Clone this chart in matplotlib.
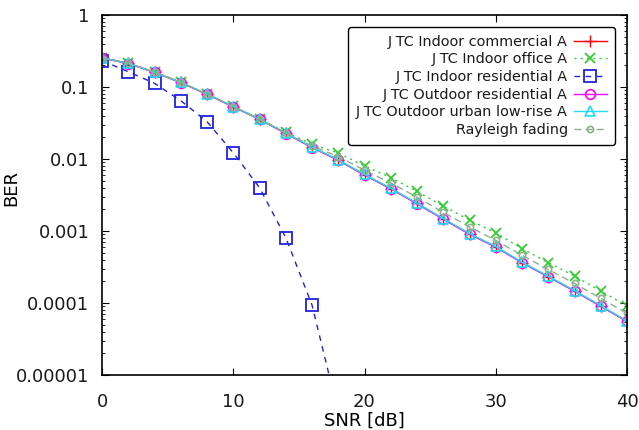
import matplotlib.pyplot as plt
import numpy as np
from matplotlib.ticker import LogLocator, NullFormatter

plt.rcParams['font.family'] = ['DejaVu Sans']
plt.rcParams['font.size'] = 13
plt.rcParams['text.color'] = '#1a1a1a'
plt.rcParams['xtick.labelcolor'] = '#1a1a1a'
plt.rcParams['ytick.labelcolor'] = '#1a1a1a'

snr = np.arange(0, 42, 2)

ber_commercial = [0.253, 0.213, 0.160, 0.116, 0.0792, 0.0532, 0.0356, 0.0228, 0.0145,
                  0.00969, 0.0060, 0.00389, 0.00241, 0.00147, 0.00091, 0.00060,
                  0.000365, 0.000233, 0.000147, 9.1e-5, 5.5e-5]
ber_office = [0.255, 0.215, 0.162, 0.117, 0.080, 0.0540, 0.0362, 0.0235, 0.0160,
              0.0121, 0.0080, 0.00553, 0.00354, 0.00222, 0.00142, 0.00094,
              0.00057, 0.000365, 0.000237, 0.000147, 9.1e-5]
ber_residential = [0.232, 0.163, 0.1125, 0.0646, 0.033, 0.0122, 0.0040, 0.00081,
                   9.4e-5, 3.0e-6]
ber_out_residential = [0.253, 0.212, 0.159, 0.115, 0.0790, 0.0530, 0.0354, 0.0226, 0.0144,
                       0.00960, 0.0060, 0.00385, 0.00238, 0.00146, 0.00090, 0.00060,
                       0.000362, 0.000231, 0.000146, 9.0e-5, 5.6e-5]
ber_out_urban = [0.254, 0.213, 0.160, 0.116, 0.0795, 0.0535, 0.0358, 0.0229, 0.0146,
                 0.00975, 0.0061, 0.00392, 0.00243, 0.00149, 0.00092, 0.00061,
                 0.000368, 0.000235, 0.000149, 9.2e-5, 5.6e-5]
ber_rayleigh = [0.254, 0.214, 0.161, 0.116, 0.0796, 0.0536, 0.0359, 0.0231, 0.0152,
                0.0108, 0.0070, 0.00465, 0.00295, 0.00182, 0.00114, 0.00074,
                0.00046, 0.000292, 0.000187, 0.000116, 7.2e-5]

fig = plt.figure(figsize=(6.39, 4.30), dpi=100)
ax = fig.add_axes([102 / 639, 55 / 430, 525 / 639, 360 / 430])

ax.plot(snr, ber_commercial, color='red', lw=1, marker='+', ms=8, mew=1,
        label='J TC Indoor commercial A')
ax.plot(snr, ber_office, color='#33cc33', lw=1, ls=(0, (1.5, 3)), marker='x', ms=7.5, mew=1.3,
        label='J TC Indoor office A')
ax.plot(snr[:len(ber_residential)], ber_residential, color='#2222dd', lw=1, ls=(0, (4, 4)),
        marker='s', ms=8, mfc='none', mew=1.3, label='J TC Indoor residential A')
ax.plot(snr, ber_out_residential, color='magenta', lw=1, marker='o', ms=7, mfc='none', mew=1.2,
        label='J TC Outdoor residential A')
ax.plot(snr, ber_out_urban, color='#22ddee', lw=1, marker='^', ms=7, mfc='none', mew=1.2,
        label='J TC Outdoor urban low-rise A')
ax.plot(snr, ber_rayleigh, color='#8fb08f', lw=1, ls=(0, (5, 3)), marker='o', ms=4.5, mfc='none',
        mew=1.2, label='Rayleigh fading')

ax.set_yscale('log')
ax.set_xlim(0, 40)
ax.set_ylim(1e-5, 1)
ax.set_xticks([0, 10, 20, 30, 40])
ax.set_yticks([1e-5, 1e-4, 1e-3, 1e-2, 1e-1, 1])
ax.set_yticklabels(['0.00001', '0.0001', '0.001', '0.01', '0.1', '1'])
ax.yaxis.set_minor_locator(LogLocator(base=10, subs=np.arange(2, 10)))
ax.yaxis.set_minor_formatter(NullFormatter())
ax.tick_params(which='both', direction='in', top=True, right=True)
ax.tick_params(which='major', length=5, width=0.8)
ax.tick_params(axis='y', which='major', pad=9)
ax.tick_params(axis='x', which='major', pad=13)
ax.tick_params(which='minor', length=2.5, width=0.6)
for s in ax.spines.values():
    s.set_linewidth(1.2)

ax.set_xlabel('SNR [dB]')
ax.xaxis.set_label_coords(0.5, -0.102)
ax.set_ylabel('BER')
ax.yaxis.set_label_coords(-0.156, 0.52)

leg = ax.legend(loc='upper right', bbox_to_anchor=(0.977, 0.967), borderaxespad=0,
                fontsize=10.4, markerfirst=False, handlelength=2.3, handletextpad=0.4,
                labelspacing=0.25, borderpad=0.55, fancybox=True, framealpha=1,
                edgecolor='black')
leg.get_frame().set_linewidth(1.0)
for vp in leg._legend_handle_box.get_children():
    vp.align = 'right'

fig.savefig('out.png', dpi=100)
